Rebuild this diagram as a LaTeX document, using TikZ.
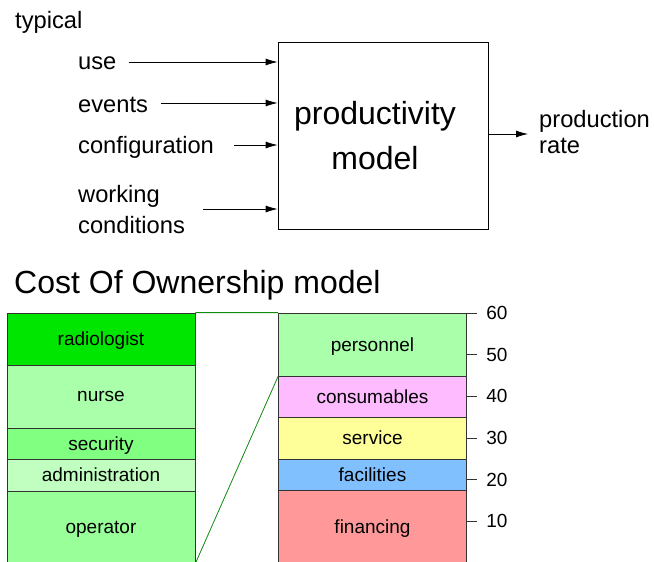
\documentclass[tikz,border=0pt]{standalone}
\usepackage{fontspec}
\setmainfont{Liberation Sans}
\usepackage{xcolor}
\usetikzlibrary{arrows.meta, positioning, calc}

\definecolor{radgreen}{HTML}{00E600}
\definecolor{nursegreen}{HTML}{AAFFAA}
\definecolor{secgreen}{HTML}{80FF80}
\definecolor{admgreen}{HTML}{C0FFC0}
\definecolor{opgreen}{HTML}{99FF99}
\definecolor{conspink}{HTML}{FFBBFF}
\definecolor{servyellow}{HTML}{FFFF99}
\definecolor{facblue}{HTML}{80C0FF}
\definecolor{finred}{HTML}{FF9999}
\definecolor{linkgreen}{HTML}{108A10}

\tikzset{
  lbl/.style={anchor=base west, inner sep=0pt, align=left,
    font=\fontsize{23.7}{31}\selectfont},
  arr/.style={-{Latex[length=12pt, width=7pt]}, line width=.8pt},
  row/.style={draw=black!80, line width=.8pt, minimum width=188pt,
    inner sep=0pt, text depth=0pt, font=\fontsize{19}{22}\selectfont},
}

\begin{document}
\begin{tikzpicture}[x=1pt, y=1pt]
  \clip (0, 0) rectangle (654, -562);
  \fill[white] (0, 0) rectangle (654, -562);

  % productivity model
  \node at (15, -28) [lbl] (typical) {typical};
  \node[draw, line width=.8pt, minimum width=210pt, minimum height=187pt] (prod) at (383, -135.5) {};
  \node[align=center, font=\fontsize{32}{45}\selectfont] (prodtext) at (375, -136) {productivity\\model};
  \node at (78, -69) [lbl] (use) {use};
  \node at (78, -112) [lbl] (events) {events};
  \node at (78, -153) [lbl] (config) {configuration};
  \node at (78, -233) [lbl] (working) {working\\conditions};
  \node at (539, -153) [lbl, font=\fontsize{23.7}{26}\selectfont] (rate) {production\\rate};
  \draw[arr] ($(use.base east)+(12,7)$) coordinate (u0) -- (u0 -| prod.west);
  \draw[arr] ($(events.base east)+(13,9)$) coordinate (e0) -- (e0 -| prod.west);
  \draw[arr] ($(config.base east)+(20,8)$) coordinate (c0) -- (c0 -| prod.west);
  \draw[arr] (203, -209) coordinate (w0) -- (w0 -| prod.west);
  \draw[arr] (prod.east |- 0, -134) -- (528, -134);

  % cost of ownership
  \node[anchor=base west, inner sep=0pt, font=\fontsize{32}{36}\selectfont] (coo) at (14, -293) {Cost Of Ownership model};

  % personnel breakdown
  \node[row, fill=radgreen, minimum height=52pt] (radiologist) at (101, -339) {radiologist};
  \node[row, fill=nursegreen, minimum height=63pt] (nurse) at (101, -396.5) {nurse};
  \node[row, fill=secgreen, minimum height=31pt] (security) at (101, -443.5) {security};
  \node[row, fill=admgreen, minimum height=32pt] (admin) at (101, -475) {administration};
  \node[row, fill=opgreen, minimum height=72pt] (operator) at (101, -527) {operator};

  % total cost stack
  \node[row, fill=nursegreen, minimum height=63pt] (personnel) at (372.5, -344.5) {personnel};
  \node[row, fill=conspink, minimum height=41pt] (consumables) at (372.5, -396.5) {consumables};
  \node[row, fill=servyellow, minimum height=42pt] (service) at (372.5, -438) {service};
  \node[row, fill=facblue, minimum height=31pt] (facilities) at (372.5, -474.5) {facilities};
  \node[row, fill=finred, minimum height=73pt] (financing) at (372.5, -526.5) {financing};

  \draw[linkgreen, line width=.8pt]
    (radiologist.north east) -- (personnel.north west)
    (operator.south east) -- (personnel.south west);

  % scale
  \foreach \v in {10, 20, ..., 60}
    \draw[black!80, line width=.8pt] (467, -563 + 4.1667*\v) -- ++(10, 0)
      node[right, inner sep=0pt, xshift=9pt, text=black, font=\fontsize{19}{22}\selectfont] (tick\v) {\v};
\end{tikzpicture}
\end{document}
